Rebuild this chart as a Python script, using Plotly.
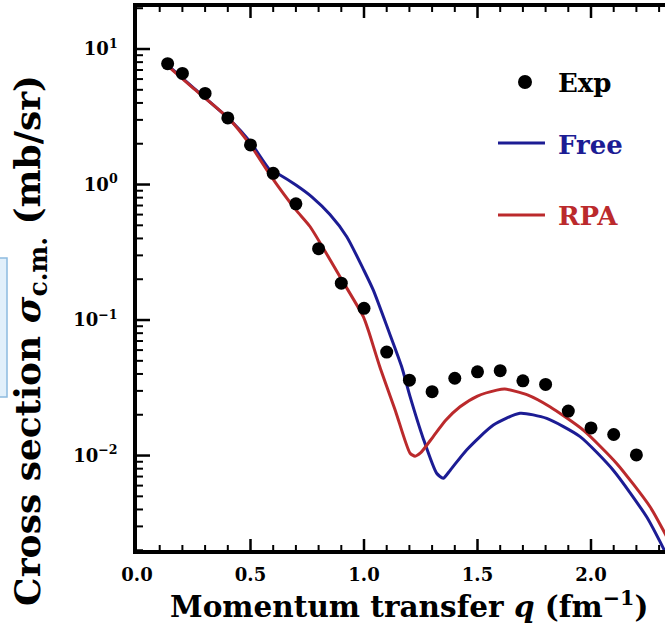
import plotly.graph_objects as go

# Measured elastic cross section
q_exp = [0.135, 0.2, 0.3, 0.4, 0.5, 0.6, 0.7, 0.8, 0.9, 1.0, 1.1, 1.2, 1.3,
         1.4, 1.5, 1.6, 1.7, 1.8, 1.9, 2.0, 2.1, 2.2]
sigma_exp = [7.8, 6.6, 4.7, 3.1, 1.96, 1.21, 0.72, 0.336, 0.187, 0.122, 0.058,
             0.036, 0.0296, 0.0372, 0.0415, 0.0423, 0.0356, 0.0335, 0.0213,
             0.016, 0.0143, 0.0101]

# Free (no correlations) calculation
q_free = [0.135, 0.25, 0.41, 0.5, 0.586, 0.63, 0.70, 0.77, 0.85, 0.924, 1.0,
          1.041, 1.107, 1.166, 1.203, 1.26, 1.32, 1.349, 1.38, 1.452, 1.57,
          1.687, 1.805, 1.952, 2.098, 2.245, 2.33]
sigma_free = [7.6, 5.15, 3.0, 2.05, 1.28, 1.175, 0.99, 0.81, 0.60, 0.412,
              0.232, 0.166, 0.0844, 0.0452, 0.0272, 0.0135, 0.0074, 0.0068,
              0.0078, 0.011, 0.0168, 0.0205, 0.0188, 0.0138, 0.0078, 0.00353,
              0.0019]

# RPA calculation
q_rpa = [0.135, 0.25, 0.41, 0.5, 0.586, 0.7, 0.762, 0.894, 0.997, 1.019, 1.07,
         1.14, 1.203, 1.225, 1.25, 1.305, 1.36, 1.423, 1.5, 1.585, 1.62, 1.72,
         1.819, 1.966, 2.113, 2.26, 2.34]
sigma_rpa = [7.5, 5.1, 3.0, 1.95, 1.18, 0.65, 0.49, 0.209, 0.106, 0.084,
             0.045, 0.021, 0.0104, 0.0099, 0.0105, 0.0138, 0.0182, 0.0229,
             0.0275, 0.0304, 0.031, 0.028, 0.0229, 0.0154, 0.00875, 0.00419,
             0.0024]

x_ticks = [0.0, 0.5, 1.0, 1.5, 2.0]
x_tick_text = ["0.0", "0.5", "1.0", "1.5", "2.0"]
y_ticks = [0.01, 0.1, 1, 10]
y_tick_text = ["10<sup>−2</sup>", "10<sup>−1</sup>", "10<sup>0</sup>",
               "10<sup>1</sup>"]

# minor tick positions: every 0.1 in q, 2..9 within each decade
x_minor = [round(0.1 * i, 1) for i in range(1, 24) if i % 5]
y_minor = [m * 10.0 ** e for e in range(-3, 2) for m in range(2, 10)]

X_RANGE = [0, 2.326]
Y_RANGE = [-2.697, 1.31]

# plot-area size in px (figure minus margins)
PLOT_W, PLOT_H = 528, 543
PX_PER_Q = PLOT_W / (X_RANGE[1] - X_RANGE[0])
PX_PER_DECADE = PLOT_H / (Y_RANGE[1] - Y_RANGE[0])

BLUE = "#1c1c94"
RED = "#bb2a2c"
FONT = "DejaVu Serif"


def x_tick_path(values, length):
    """Inward tick marks on the bottom and top frame lines."""
    dy = length / PX_PER_DECADE
    xs, ys = [], []
    for v in values:
        xs += [v, v, None, v, v, None]
        ys += [10 ** Y_RANGE[0], 10 ** (Y_RANGE[0] + dy), None,
               10 ** Y_RANGE[1], 10 ** (Y_RANGE[1] - dy), None]
    return xs, ys


def y_tick_path(values, length):
    """Inward tick marks on the left frame line."""
    dx = length / PX_PER_Q
    xs, ys = [], []
    for v in values:
        xs += [X_RANGE[0], X_RANGE[0] + dx, None]
        ys += [v, v, None]
    return xs, ys


fig = go.Figure()

# frame tick marks
for (xs, ys), width in (
    (x_tick_path(x_ticks[1:], 11), 2.5), (x_tick_path(x_minor, 5), 2),
    (y_tick_path(y_ticks, 13), 2.5), (y_tick_path(y_minor, 6), 2),
):
    fig.add_trace(go.Scatter(x=xs, y=ys, mode="lines", hoverinfo="skip",
                             showlegend=False, cliponaxis=False,
                             line=dict(color="black", width=width)))

fig.add_trace(go.Scatter(x=q_free, y=sigma_free, mode="lines", name="Free",
                         line=dict(color=BLUE, width=3, shape="spline",
                                   smoothing=0.6)))
fig.add_trace(go.Scatter(x=q_rpa, y=sigma_rpa, mode="lines", name="RPA",
                         line=dict(color=RED, width=3, shape="spline",
                                   smoothing=0.6)))
fig.add_trace(go.Scatter(x=q_exp, y=sigma_exp, mode="markers", name="Exp",
                         marker=dict(color="black", size=13)))

tick_font = dict(family=FONT, size=18, color="black", weight="bold")

fig.update_xaxes(
    range=X_RANGE, tickmode="array", tickvals=x_ticks, ticktext=x_tick_text,
    ticks="", showline=True, linewidth=3.5, linecolor="black",
    mirror=True, showgrid=False, zeroline=False, tickfont=tick_font,
    ticklabelstandoff=6,
)
fig.update_yaxes(
    type="log", range=Y_RANGE, tickmode="array", tickvals=y_ticks,
    ticktext=y_tick_text, ticks="", showline=True, linewidth=3.5,
    linecolor="black", showgrid=False, zeroline=False, tickfont=tick_font,
    ticklabelstandoff=12,
)

shapes = [
    # legend keys
    dict(type="circle", xref="paper", yref="paper", x0=0.7216, x1=0.7481,
         y0=0.8490, y1=0.8748, fillcolor="black", line=dict(width=0)),
    dict(type="line", xref="paper", yref="paper", x0=0.6837, x1=0.7727,
         y0=0.7495, y1=0.7495, line=dict(color=BLUE, width=3)),
    dict(type="line", xref="paper", yref="paper", x0=0.6837, x1=0.7727,
         y0=0.6169, y1=0.6169, line=dict(color=RED, width=3)),
    # pale callout box at the left edge
    dict(type="rect", xref="paper", yref="paper", x0=-0.27, x1=-0.2462,
         y0=(550 - 397) / 543, y1=(550 - 258) / 543, fillcolor="#e2f0fb",
         line=dict(color="#8dbbe0", width=1.5), layer="below"),
]

annotations = [
    dict(text="Momentum transfer <i>q</i> (fm<sup>−1</sup>)", x=0.515,
         y=-0.102, xref="paper", yref="paper", showarrow=False,
         xanchor="center", yanchor="middle",
         font=dict(family=FONT, size=29.5, color="black", weight="bold")),
    dict(text="Cross section <i>σ</i><sub>c.m.</sub> (mb/sr)", x=-0.2027,
         y=0.3867, xref="paper", yref="paper", showarrow=False,
         textangle=-90, xanchor="center", yanchor="middle",
         font=dict(family=FONT, size=36, color="black", weight="bold")),
    dict(text="Exp", x=0.7936, y=0.860, xref="paper", yref="paper",
         showarrow=False, xanchor="left", yanchor="middle",
         font=dict(family=FONT, size=26, color="black", weight="bold")),
    dict(text="Free", x=0.7936, y=0.7459, xref="paper", yref="paper",
         showarrow=False, xanchor="left", yanchor="middle",
         font=dict(family=FONT, size=26, color=BLUE, weight="bold")),
    dict(text="RPA", x=0.7936, y=0.615, xref="paper", yref="paper",
         showarrow=False, xanchor="left", yanchor="middle",
         font=dict(family=FONT, size=26, color=RED, weight="bold")),
]

fig.update_layout(
    width=665, height=626, margin=dict(l=137, r=0, t=7, b=76),
    paper_bgcolor="white", plot_bgcolor="white", showlegend=False,
    annotations=annotations, shapes=shapes,
)

fig.write_html("out.html")
